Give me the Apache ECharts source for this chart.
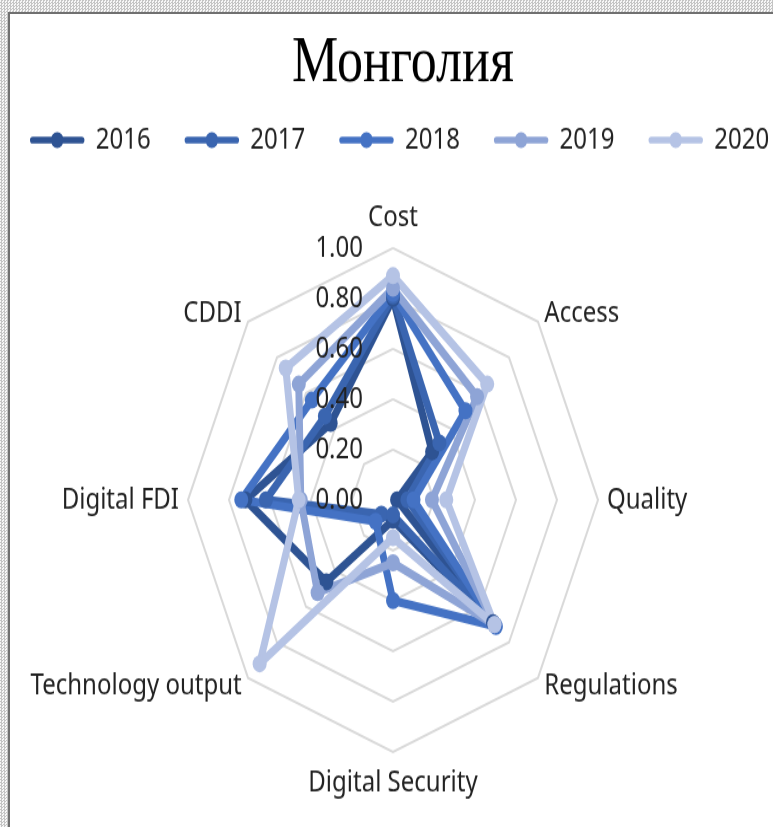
<!DOCTYPE html>
<html>
<head>
<meta charset="utf-8">
<script src="https://cdn.jsdelivr.net/npm/echarts@6/dist/echarts.min.js"></script>
<style>
  html, body { margin: 0; padding: 0; width: 773px; height: 827px; overflow: hidden; background: #fff; }
  .hatch { position: absolute; background-color: #eee;
    background-image: repeating-conic-gradient(#c4c4c4 0 25%, #f6f6f6 0 50%);
    background-size: 3px 3px; }
  #frame { position: absolute; left: 8px; top: 12px; width: 765px; height: 815px;
    border-left: 2px solid #707070; border-top: 2px solid #707070; background: #fff; box-sizing: border-box; }
  #wrap { position: absolute; left: 0; top: 0; width: 773px; height: 827px; overflow: hidden; }
  #chart { position: absolute; left: 0; top: 0; width: 773px; height: 673px;
    transform-origin: 0 0; transform: scaleY(1.2288); }
</style>
</head>
<body>
<div class="hatch" style="left:0;top:0;width:773px;height:12px;"></div>
<div class="hatch" style="left:0;top:0;width:8px;height:827px;"></div>
<div id="frame"></div>
<div id="wrap"><div id="chart"></div></div>
<script>
// Categories in clockwise order starting at the top
const categories = ['Cost', 'Access', 'Quality', 'Regulations', 'Digital Security', 'Technology output', 'Digital FDI', 'CDDI'];
const years = ['2016', '2017', '2018', '2019', '2020'];
const v2016 = [0.80, 0.27, 0.02, 0.69, 0.08, 0.46, 0.72, 0.43];
const v2017 = [0.81, 0.32, 0.07, 0.70, 0.06, 0.08, 0.62, 0.47];
const v2018 = [0.82, 0.50, 0.10, 0.71, 0.40, 0.12, 0.74, 0.56];
const v2019 = [0.84, 0.58, 0.19, 0.70, 0.25, 0.52, 0.45, 0.65];
const v2020 = [0.89, 0.65, 0.26, 0.70, 0.15, 0.92, 0.46, 0.74];
const tickLabels = ['0.00', '0.20', '0.40', '0.60', '0.80', '1.00'];
const colors = ['#2E5393', '#3A65B0', '#4472C4', '#8EA4D6', '#B5C3E5'];

// ECharts places indicators counter-clockwise: reorder to get clockwise layout
const order = [0, 7, 6, 5, 4, 3, 2, 1];
const reorder = arr => order.map(i => arr[i]);
const allValues = [v2016, v2017, v2018, v2019, v2020];

const FONT = 'Noto Sans';
const nameGaps = { 'Cost': 13, 'Digital Security': 13 };

const legendIcon = 'path://M3.5,4.5 L63.5,4.5 A3.5,3.5 0 0 1 63.5,11.5 L3.5,11.5 A3.5,3.5 0 0 1 3.5,4.5 Z M33.5,0 A8,8 0 1 1 33.49,0 Z';

const CENTER = [393, 406.8];
const RADIUS = 205;

const chart = echarts.init(document.getElementById('chart'), null, { renderer: 'canvas' });
chart.setOption({
  animation: false,
  color: colors,
  title: {
    text: 'Монголия',
    left: 287,
    top: 21,
    textStyle: { fontFamily: 'Liberation Serif', fontSize: 52, fontWeight: 'normal', color: '#000' }
  },
  legend: {
    left: 30,
    top: 102,
    width: 743,
    padding: 0,
    itemWidth: 67,
    itemHeight: 13,
    itemGap: 34,
    icon: legendIcon,
    data: years,
    textStyle: { fontFamily: FONT, fontSize: 24, color: '#222' }
  },
  radar: [{
    // grid polygons and indicator names (behind the series)
    center: CENTER,
    radius: RADIUS,
    startAngle: 90,
    shape: 'polygon',
    splitNumber: 5,
    z: 0,
    indicator: order.map(i => ({
      name: categories[i],
      min: 0,
      max: 1,
      nameGap: nameGaps[categories[i]] || 9
    })),
    axisName: { color: '#222', fontSize: 24, fontFamily: FONT },
    splitLine: { lineStyle: { color: '#D9D9D9', width: 2 } },
    splitArea: { show: false },
    axisLine: { show: false },
    axisTick: { show: false },
    axisLabel: { show: false }
  }, {
    // tick labels on the Cost axis, drawn above the series
    center: CENTER,
    radius: RADIUS,
    startAngle: 90,
    shape: 'polygon',
    splitNumber: 5,
    z: 10,
    indicator: order.map(i => ({
      name: categories[i],
      min: 0,
      max: 1,
      axisLabel: { show: categories[i] === 'Cost' }
    })),
    axisName: { show: false },
    splitLine: { show: false },
    splitArea: { show: false },
    axisLine: { show: false },
    axisTick: { show: false },
    axisLabel: {
      show: false,
      fontSize: 24,
      fontFamily: FONT,
      color: '#222',
      margin: 30,
      formatter: function (v) { return tickLabels[Math.round(v * 5)]; }
    }
  }],
  series: [{
    type: 'radar',
    radarIndex: 0,
    symbol: 'circle',
    symbolSize: 14,
    emphasis: { disabled: true },
    lineStyle: { width: 7 },
    data: years.map((y, k) => ({
      name: y,
      value: reorder(allValues[k]),
      lineStyle: { color: colors[k], width: 7 },
      itemStyle: { color: colors[k] }
    }))
  }]
});
</script>
</body>
</html>
